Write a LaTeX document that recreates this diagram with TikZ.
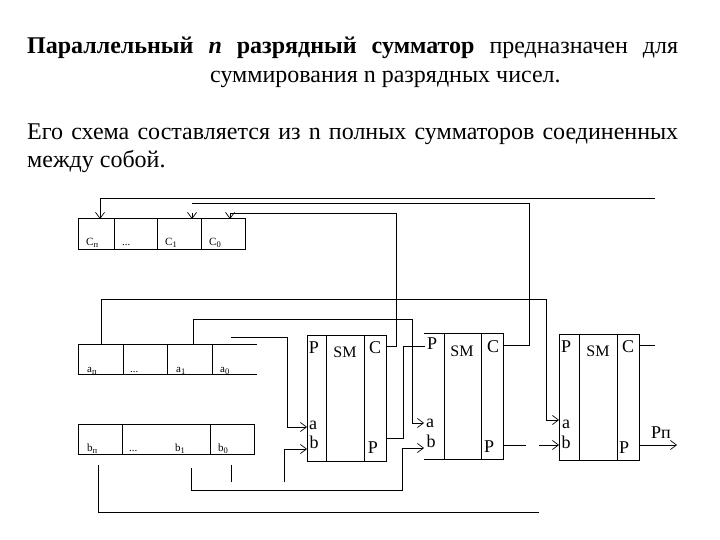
\documentclass[tikz,border=0pt]{standalone}
\usepackage{fontspec}
\setmainfont{Liberation Serif}
\usetikzlibrary{arrows.meta}
\newcommand{\lo}[1]{\raisebox{-2pt}{\fontsize{8.5}{8.5}\selectfont #1}}
\tikzset{
  x=1pt,y=-1pt,
  cell/.style={draw=black,line width=1pt,anchor=north west,inner sep=0pt,outer sep=0pt},
  wire/.style={draw=black,line width=1pt},
  arr/.style={wire,-{Straight Barb[length=6pt,width=9pt,line width=.7pt]}},
  reg/.style={font=\fontsize{11}{11}\selectfont,inner sep=0pt,anchor=base west},
  pin/.style={font=\fontsize{18}{18}\selectfont,inner sep=0pt,anchor=base},
  sm/.style={font=\fontsize{16}{16}\selectfont,inner sep=0pt,anchor=base},
  para/.style={font=\fontsize{24}{24}\selectfont,inner sep=0pt,anchor=base west},
}
\begin{document}
\begin{tikzpicture}
\useasboundingbox (0,0) rectangle (720,540);
% text
\node[para,text width=651pt,align=justify] (t1) at (27,54) {\textbf{Параллельный}\hfill\textbf{\textit{n}}\hfill\textbf{разрядный}\hfill\textbf{сумматор}\hfill предназначен\hfill для};
\node[para] (t2) at (210,83) {суммирования n разрядных чисел.};
\node[para,text width=651pt,align=justify] (t3) at (27,140) {Его\hfill схема\hfill составляется\hfill из\hfill n\hfill полных\hfill сумматоров\hfill соединенных};
\node[para] (t4) at (27,168) {между собой.};
% register C
\node[cell,minimum width=36pt,minimum height=30pt] (cn) at (78,219) {};
\node[cell,minimum width=43pt,minimum height=30pt] (cd) at (114,219) {};
\node[cell,minimum width=44pt,minimum height=30pt] (c1) at (157,219) {};
\node[cell,minimum width=44pt,minimum height=30pt] (c0) at (201,219) {};
\node[reg] (lcn) at (86,245) {C\lo{п}};
\node[reg] (lcd) at (122,245) {...};
\node[reg] (lc1) at (165,245) {C\lo{1}};
\node[reg] (lc0) at (209,245) {C\lo{0}};
% register a
\node[cell,minimum width=45pt,minimum height=30pt] (an) at (78,344) {};
\node[cell,minimum width=44pt,minimum height=30pt] (ad) at (123,344) {};
\node[cell,minimum width=45pt,minimum height=30pt] (a1) at (167,344) {};
\coordinate (a0tl) at (212,344); \coordinate (a0tr) at (257,344);
\coordinate (a0bl) at (212,374); \coordinate (a0br) at (257,374);
\draw[wire] (a0tl) -- (a0tr) (a0bl) -- (a0br);
\node[reg] (lan) at (87,372) {a\lo{п}};
\node[reg] (lad) at (130,372) {...};
\node[reg] (la1) at (176,372) {a\lo{1}};
\node[reg] (la0) at (220,372) {a\lo{0}};
% register b
\node[cell,minimum width=44pt,minimum height=30pt] (bn) at (78,424) {};
\node[cell,minimum width=88pt,minimum height=30pt] (bd) at (122,424) {};
\node[cell,minimum width=44pt,minimum height=30pt] (b0) at (210,424) {};
\node[reg] (lbn) at (87,451) {b\lo{п}};
\node[reg] (lbd) at (129,451) {...};
\node[reg] (lb1) at (175,451) {b\lo{1}};
\node[reg] (lb0) at (218,451) {b\lo{0}};
% SM 1
\node[cell,minimum width=19pt,minimum height=126pt] (s1l) at (307,335) {};
\node[cell,minimum width=38pt,minimum height=126pt] (s1m) at (326,335) {};
\node[cell,minimum width=22pt,minimum height=126pt] (s1r) at (364,335) {};
\node[pin] (p1) at (314,353) {P};
\node[sm] (sm1) at (345,357) {SM};
\node[pin] (c1t) at (375,353) {C};
\node[pin] (a1t) at (313,429) {a};
\node[pin] (b1t) at (314,448) {b};
\node[pin] (p1o) at (373,453) {P};
% SM 2
\coordinate (s2tl) at (424,333); \coordinate (s2bl) at (424,459);
\node[cell,minimum width=37pt,minimum height=126pt] (s2m) at (444,333) {};
\node[cell,minimum width=22pt,minimum height=126pt] (s2r) at (481,333) {};
\draw[wire] (s2tl) -- (s2m.north west) (s2bl) -- (s2m.south west);
\node[pin] (p2) at (432,349) {P};
\node[sm] (sm2) at (462,356) {SM};
\node[pin] (c2t) at (493,352) {C};
\node[pin] (a2t) at (430,427) {a};
\node[pin] (b2t) at (431,447) {b};
\node[pin] (p2o) at (489,452) {P};
% SM 3
\node[cell,minimum width=20pt,minimum height=126pt] (s3l) at (559,334) {};
\node[cell,minimum width=38pt,minimum height=126pt] (s3m) at (579,334) {};
\node[cell,minimum width=22pt,minimum height=126pt] (s3r) at (617,334) {};
\node[pin] (p3) at (566,352) {P};
\node[sm] (sm3) at (598,356) {SM};
\node[pin] (c3t) at (628,352) {C};
\node[pin] (a3t) at (566,428) {a};
\node[pin] (b3t) at (566,448) {b};
\node[pin] (p3o) at (624,453) {P};
\node[font=\fontsize{18}{18}\selectfont,inner sep=0pt,anchor=base] (po) at (661,438) {Pп};
% coordinates
\coordinate (cnin) at (100,219);
\coordinate (c1in) at (192,219);
\coordinate (c0in) at (230,219);
\coordinate (c1st) at (192,213);
\coordinate (c0st) at (230,213);
\coordinate (anup) at (101,344);
\coordinate (a1up) at (193,344);
\coordinate (a0s) at (231,337);
\coordinate (bns) at (98,465);
\coordinate (b1s) at (191,468);
\coordinate (b0s) at (231,465);
\coordinate (b0e) at (231,482);
\coordinate (b1bs) at (284,482);
\coordinate (s1a) at (307,427);
\coordinate (s1b) at (307,449);
\coordinate (s1c) at (386,346);
\coordinate (s1p) at (386,438);
\coordinate (s2a) at (424,423);
\coordinate (s2b) at (424,448);
\coordinate (s2p) at (425,346);
\coordinate (s2c) at (503,345);
\coordinate (s2o) at (503,445);
\coordinate (s3a) at (559,420);
\coordinate (s3b) at (559,445);
\coordinate (s3c) at (639,345);
\coordinate (s3o) at (639,445);
\coordinate (gapl) at (526,445);
\coordinate (gapr) at (539,445);
\coordinate (pend) at (677,445);
\coordinate (l1e) at (655,199);
\coordinate (l1b) at (100,199);
\coordinate (l2s) at (192,204);
\coordinate (l2c) at (529,204);
\coordinate (l3s) at (230,214);
\coordinate (l3c) at (396,214);
\coordinate (c3e) at (655,345);
\coordinate (bne) at (539,512);
\coordinate (anc) at (546,299);
\coordinate (a1c) at (412,319);
\coordinate (a0c) at (287,337);
\coordinate (s2pc) at (403,346);
\coordinate (b1c) at (402,490);
% wires
\draw[arr] (l1e) -- (l1b) -- (cnin);
\draw[wire] (s2c) -| (l2c) -- (l2s);
\draw[arr] (c1st) -- (c1in);
\draw[wire] (s1c) -| (l3c) -- (l3s);
\draw[arr] (c0st) -- (c0in);
\draw[wire] (s3c) -- (c3e);
\draw[arr] (anup) |- (anc) |- (s3a);
\draw[arr] (a1up) |- (a1c) |- (s2a);
\draw[arr] (a0s) -- (a0c) |- (s1a);
\draw[wire] (s2p) -- (s2pc) |- (s1p);
\draw[wire] (b0s) -- (b0e);
\draw[arr] (b1bs) |- (s1b);
\draw[arr] (b1s) |- (b1c) |- (s2b);
\draw[wire] (bns) |- (bne);
\draw[wire] (s2o) -- (gapl);
\draw[arr] (gapr) -- (s3b);
\draw[arr] (s3o) -- (pend);
\end{tikzpicture}
\end{document}
